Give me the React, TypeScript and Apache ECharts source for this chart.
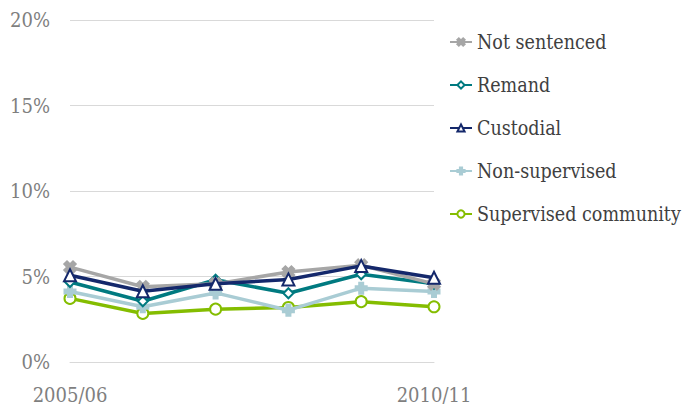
import React, { useEffect, useRef } from "react";
import * as echarts from "echarts";

const categories = ["2005/06", "2006/07", "2007/08", "2008/09", "2009/10", "2010/11"];
const notSentenced = [5.55, 4.4, 4.57, 5.26, 5.66, 4.57];
const remand = [4.68, 3.55, 4.81, 4.02, 5.13, 4.57];
const custodial = [5.07, 4.14, 4.57, 4.83, 5.62, 4.93];
const nonSupervised = [4.12, 3.23, 4.04, 3.03, 4.32, 4.12];
const supervisedCommunity = [3.72, 2.84, 3.09, 3.19, 3.53, 3.23];
const yTicks = [0, 5, 10, 15, 20];

const X_PATH = "path://M2,0L5,3L8,0L10,2L7,5L10,8L8,10L5,7L2,10L0,8L3,5L0,2Z";
const PLUS_PATH = "path://M3.5,0H6.5V3.5H10V6.5H6.5V10H3.5V6.5H0V3.5H3.5Z";

const FONT = "DejaVu Serif Condensed";
const FS = 20;

export default function App() {
  const ref = useRef<HTMLDivElement>(null);
  useEffect(() => {
    if (!ref.current) return;
    const chart = echarts.init(ref.current, null, { renderer: "svg" });
    const mk = (name: string, data: number[], color: string, symbol: string, size: number, z: number) => ({
      name,
      type: "line",
      data,
      symbol,
      symbolSize: size,
      z,
      lineStyle: { color, width: 3.5 },
      itemStyle: { color, borderColor: color, borderWidth: 3 },
    });
    chart.setOption({
      animation: false,
      textStyle: { fontFamily: FONT },
      grid: { left: 70, right: 253, top: 20, bottom: 45, containLabel: false },
      legend: {
        orient: "vertical",
        left: 444,
        top: 27,
        itemWidth: 22,
        itemHeight: 9,
        itemGap: 23,
        textStyle: { fontFamily: FONT, fontSize: 19.5, color: "#404040" },
        data: ["Not sentenced", "Remand", "Custodial", "Non-supervised", "Supervised community"],
      },
      xAxis: {
        type: "category",
        data: categories,
        boundaryGap: false,
        axisLine: { show: true, lineStyle: { color: "#D9D9D9", width: 1 } },
        axisTick: { show: false },
        axisLabel: {
          fontFamily: FONT,
          fontSize: FS,
          color: "#7F7F7F",
          margin: 23,
          interval: (i: number) => i === 0 || i === categories.length - 1,
        },
        splitLine: { show: false },
      },
      yAxis: {
        type: "value",
        min: yTicks[0],
        max: yTicks[yTicks.length - 1],
        interval: 5,
        axisLine: { show: false },
        axisTick: { show: false },
        axisLabel: { fontFamily: FONT, fontSize: FS, color: "#7F7F7F", margin: 20, formatter: "{value}%" },
        splitLine: { lineStyle: { color: "#D9D9D9", width: 1 } },
      },
      series: [
        mk("Supervised community", supervisedCommunity, "#84BD00", "emptyCircle", 11, 2),
        mk("Non-supervised", nonSupervised, "#A9CCD4", PLUS_PATH, 10, 3),
        mk("Remand", remand, "#007A80", "emptyDiamond", 10, 4),
        mk("Not sentenced", notSentenced, "#A6A6A6", X_PATH, 10, 5),
        mk("Custodial", custodial, "#14286B", "emptyTriangle", 12, 6),
      ],
    });
    return () => chart.dispose();
  }, []);
  return <div ref={ref} style={{ width: 687, height: 407, position: "absolute", left: 0, top: 0, background: "#fff" }} />;
}
